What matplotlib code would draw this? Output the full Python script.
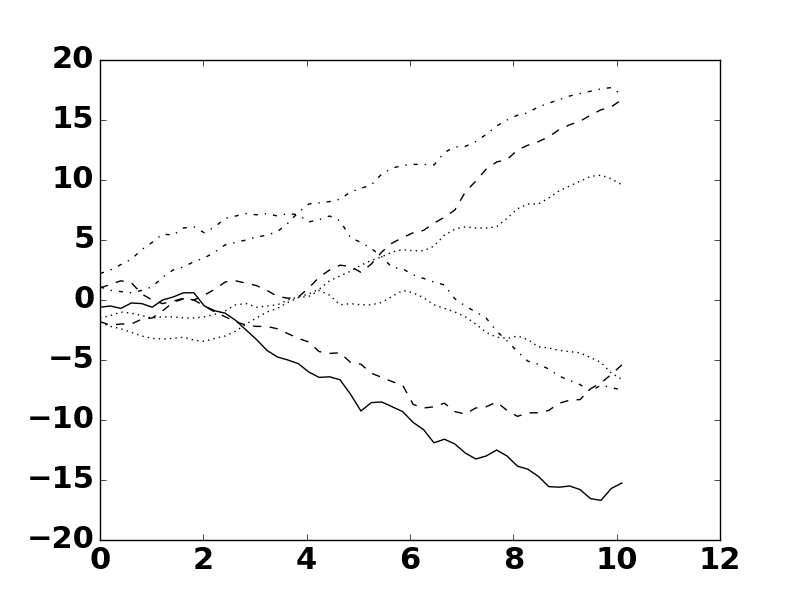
import numpy as np
import matplotlib
matplotlib.use("Agg")
import matplotlib.pyplot as plt

plt.style.use("classic")
font = {"weight": "bold", "size": 22}
matplotlib.rc("font", **font)

# sample positions, 0 .. 10.1
x = np.linspace(0, 10.1, 51)

# random walks
walk_solid = [-0.6, -0.5, -0.7, -0.25, -0.3, -0.6, 0.0, 0.25, 0.6, 0.6,
              -0.5, -0.9, -1.1, -1.7, -2.5, -3.3, -4.2, -4.75, -5.0, -5.3,
              -6.0, -6.45, -6.4, -6.65, -7.85, -9.25, -8.55, -8.5, -8.9, -9.3,
              -10.2, -10.8, -11.9, -11.6, -12.0, -12.75, -13.25, -13.0, -12.5, -13.0,
              -13.85, -14.1, -14.7, -15.55, -15.6, -15.5, -15.8, -16.55, -16.7, -15.7,
              -15.25]

walk_dash_up = [1.0, 1.3, 1.6, 1.45, 0.5, 0.0, -0.3, -0.1, 0.15, 0.0,
                0.4, 0.9, 1.5, 1.6, 1.4, 1.2, 0.8, 0.3, 0.15, 0.25,
                1.0, 1.9, 2.5, 2.9, 2.8, 2.3, 3.0, 4.0, 4.75, 5.2,
                5.6, 5.8, 6.4, 6.9, 7.5, 9.0, 9.9, 10.9, 11.5, 11.7,
                12.5, 12.9, 13.2, 13.6, 14.2, 14.6, 14.9, 15.4, 15.85, 16.1,
                16.7]

walk_dash_down = [-1.8, -2.1, -2.0, -2.0, -1.6, -1.5, -0.9, -0.2, 0.1, 0.0,
                  -0.5, -1.0, -1.4, -1.8, -2.1, -2.2, -2.2, -2.4, -2.8, -3.2,
                  -3.5, -4.3, -4.45, -4.4, -5.2, -5.35, -6.1, -6.45, -6.8, -7.1,
                  -8.7, -9.0, -8.9, -8.6, -9.3, -9.5, -9.0, -8.9, -8.5, -9.2,
                  -9.7, -9.4, -9.4, -9.2, -8.6, -8.35, -8.3, -7.4, -6.9, -6.2,
                  -5.4]

walk_dashdot_up = [1.1, 0.8, 0.7, 0.6, 0.8, 1.1, 1.9, 2.5, 2.75, 3.2,
                   3.5, 4.0, 4.6, 4.8, 5.0, 5.25, 5.4, 5.7, 6.4, 7.3,
                   8.0, 8.1, 8.2, 8.4, 9.0, 9.3, 9.6, 10.5, 11.0, 11.2,
                   11.3, 11.3, 11.25, 12.3, 12.75, 12.8, 13.2, 13.8, 14.5, 15.0,
                   15.4, 15.6, 16.1, 16.4, 16.7, 17.0, 17.2, 17.4, 17.6, 17.7,
                   17.1]

walk_dashdot_down = [2.2, 2.5, 2.95, 3.4, 4.2, 4.8, 5.5, 5.4, 6.0, 6.1,
                     5.6, 6.1, 6.8, 7.0, 7.2, 7.1, 7.2, 7.0, 7.2, 7.1,
                     6.5, 6.7, 7.0, 6.6, 5.2, 4.8, 4.3, 3.6, 2.7, 2.6,
                     2.1, 1.8, 1.5, 1.25, 0.1, -0.5, -1.0, -1.5, -2.6, -3.4,
                     -4.3, -5.1, -5.35, -5.75, -6.35, -6.7, -7.05, -7.6, -7.1, -7.3,
                     -7.5]

walk_dot_low = [-1.9, -2.2, -2.4, -2.7, -3.0, -3.2, -3.25, -3.2, -3.1, -3.35,
                -3.45, -3.2, -3.0, -2.6, -2.0, -1.5, -1.0, -0.7, -0.2, 0.2,
                0.3, 0.8, 0.4, -0.4, -0.3, -0.4, -0.4, -0.2, 0.3, 0.8,
                0.6, 0.2, -0.4, -0.7, -1.0, -1.4, -2.0, -2.7, -3.1, -3.2,
                -3.0, -3.3, -3.9, -4.0, -4.2, -4.3, -4.4, -4.8, -5.2, -6.1,
                -6.6]

walk_dot_high = [-1.5, -1.3, -1.0, -1.1, -1.3, -1.5, -1.4, -1.4, -1.5, -1.5,
                 -1.4, -1.2, -0.9, -0.4, -0.3, -0.6, -0.5, -0.4, 0.0, 0.25,
                 0.5, 0.9, 1.6, 2.0, 2.4, 2.9, 3.3, 3.6, 4.0, 4.2,
                 4.1, 4.1, 4.5, 5.4, 5.9, 6.1, 6.0, 6.0, 6.1, 6.8,
                 7.6, 8.0, 8.0, 8.5, 9.1, 9.5, 9.9, 10.3, 10.4, 10.1,
                 9.6]

walks = [walk_solid, walk_dash_up, walk_dash_down, walk_dashdot_up,
         walk_dashdot_down, walk_dot_low, walk_dot_high]
styles = ["-", "--", "--", "-.", "-.", ":", ":"]

fig = plt.figure(figsize=(8, 6), dpi=100)
ax = fig.add_subplot(111)

for w, ls in zip(walks, styles):
    ax.plot(x, w, color="k", linestyle=ls, linewidth=1)

ax.set_xlim(0, 12)
ax.set_ylim(-20, 20)
ax.set_xticks(np.arange(0, 13, 2))
ax.set_yticks(np.arange(-20, 21, 5))

fig.savefig("out.png", dpi=100)
